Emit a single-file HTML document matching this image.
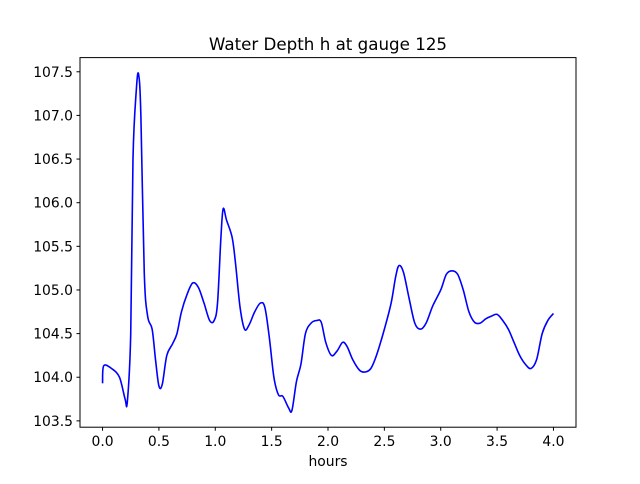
<!DOCTYPE html>
<html><head><meta charset="utf-8"><style>
body{margin:0;background:#fff;font-family:"DejaVu Sans","Liberation Sans",sans-serif}
</style></head><body>
<svg id="chart" width="640" height="480" xmlns="http://www.w3.org/2000/svg" font-family="DejaVu Sans, Liberation Sans, sans-serif">
<rect width="640" height="480" fill="#fff"/>
<text x="328" y="50" text-anchor="middle" font-size="16.7">Water Depth h at gauge 125</text>
<g id="plot"></g>
<rect x="80" y="57.6" width="496" height="369.6" fill="none" stroke="#000" stroke-width="1"/>
<text x="328" y="466" text-anchor="middle" font-size="13.9">hours</text>
</svg>
<script>
const hours=[0,0.01,0.08,0.15,0.2,0.22,0.25,0.27,0.3,0.32,0.34,0.37,0.4,0.44,0.47,0.5,0.53,0.57,0.62,0.66,0.7,0.75,0.8,0.85,0.9,0.95,0.99,1.02,1.05,1.07,1.1,1.15,1.18,1.22,1.26,1.3,1.35,1.4,1.44,1.48,1.52,1.56,1.6,1.65,1.68,1.72,1.76,1.8,1.85,1.9,1.94,1.98,2.03,2.08,2.13,2.17,2.22,2.28,2.33,2.38,2.43,2.5,2.56,2.6,2.63,2.67,2.72,2.77,2.82,2.87,2.93,3.0,3.05,3.1,3.15,3.2,3.25,3.3,3.35,3.4,3.45,3.5,3.55,3.6,3.65,3.7,3.75,3.8,3.85,3.9,3.95,4.0];
const depth=[103.93,104.13,104.1,104.0,103.75,103.72,104.5,106.5,107.3,107.47,107.0,105.2,104.7,104.55,104.2,103.9,103.92,104.25,104.38,104.5,104.75,104.95,105.08,105.03,104.85,104.65,104.65,104.85,105.6,105.93,105.8,105.6,105.3,104.8,104.55,104.6,104.75,104.85,104.8,104.45,104.0,103.8,103.78,103.65,103.62,103.95,104.15,104.5,104.62,104.65,104.63,104.4,104.25,104.3,104.4,104.35,104.2,104.08,104.06,104.1,104.25,104.55,104.85,105.15,105.28,105.2,104.9,104.62,104.55,104.62,104.82,105.0,105.18,105.22,105.18,105.0,104.75,104.63,104.62,104.67,104.7,104.72,104.65,104.55,104.4,104.25,104.15,104.1,104.2,104.5,104.65,104.73];
const xTicks=[0,0.5,1,1.5,2,2.5,3,3.5,4];
const yTicks=[103.5,104,104.5,105,105.5,106,106.5,107,107.5];
const L=80,R=576,T=57.6,B=427.2,NS="http://www.w3.org/2000/svg";
const xmin=Math.min(...hours),xmax=Math.max(...hours),xm=(xmax-xmin)*0.05;
const ymin=Math.min(...depth),ymax=Math.max(...depth),ym=(ymax-ymin)*0.05;
const sx=v=>L+(v-(xmin-xm))/((xmax+xm)-(xmin-xm))*(R-L);
const sy=v=>B-(v-(ymin-ym))/((ymax+ym)-(ymin-ym))*(B-T);
const g=document.getElementById('plot');
function mk(t,a){const e=document.createElementNS(NS,t);for(const k in a)e.setAttribute(k,a[k]);g.appendChild(e);return e;}
xTicks.forEach(v=>{const x=sx(v);
 const l=mk('line',{x1:x,x2:x,y1:B,y2:B+3.5,stroke:'#000'});
 
 
 const t=mk('text',{x:x,y:B+19,'text-anchor':'middle','font-size':'13.9'});t.textContent=v.toFixed(1);
 
 });
yTicks.forEach(v=>{const y=sy(v);
 const l=mk('line',{x1:L-3.5,x2:L,y1:y,y2:y,stroke:'#000'});
 
 
 const t=mk('text',{x:L-7,y:y+5,'text-anchor':'end','font-size':'13.9'});t.textContent=v.toFixed(1);
 
 });
const pts=hours.map((h,i)=>[sx(h),sy(depth[i])]);
let d='M'+pts[0][0]+','+pts[0][1];
for(let i=0;i<pts.length-1;i++){
 const p0=pts[Math.max(0,i-1)],p1=pts[i],p2=pts[i+1],p3=pts[Math.min(pts.length-1,i+2)];
 const c1=[p1[0]+(p2[0]-p0[0])/6,p1[1]+(p2[1]-p0[1])/6];
 const c2=[p2[0]-(p3[0]-p1[0])/6,p2[1]-(p3[1]-p1[1])/6];
 d+=' C'+c1+' '+c2+' '+p2;
}
const p=mk('path',{d:d,fill:'none',stroke:'#0000ff','stroke-width':'1.6','stroke-linejoin':'round'});


</script>
</body></html>
